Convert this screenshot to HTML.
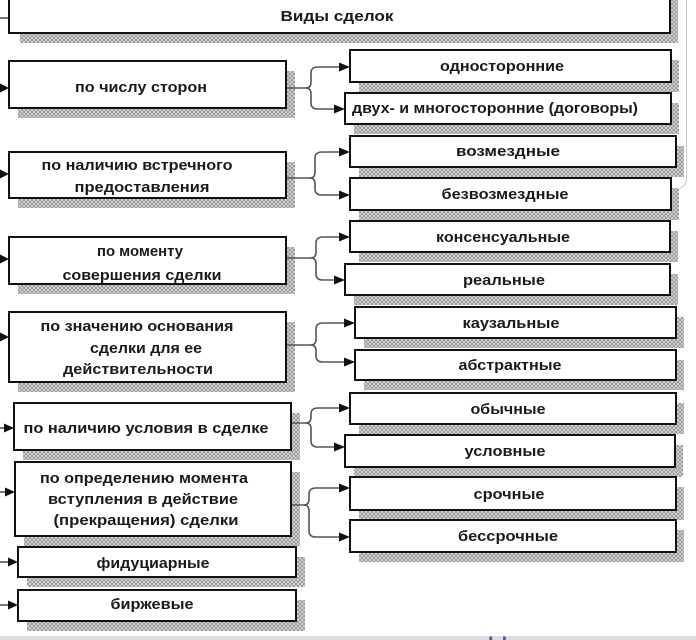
<!DOCTYPE html>
<html><head><meta charset="utf-8"><style>
html,body{margin:0;padding:0;background:#fff;}
svg{display:block;}
text{font-family:"Liberation Sans","Noto Sans CJK SC",sans-serif;font-weight:bold;font-size:15px;fill:#1a1a1a;text-anchor:middle;}
</style></head><body>
<svg width="696" height="640" viewBox="0 0 696 640" xmlns="http://www.w3.org/2000/svg">
<defs>
<pattern id="h" width="4" height="4" patternUnits="userSpaceOnUse">
<rect width="4" height="4" fill="#e6e6e6"/>
<path d="M0 0L2 2L4 0M0 4L2 2L4 4" stroke="#959595" stroke-width="1" fill="none"/>
</pattern>
</defs>
<rect width="696" height="640" fill="#fff"/>

<!-- right gray frame line -->
<path d="M686.5 0 L686.5 178 Q686.5 186 680 188" stroke="#c8c8c8" stroke-width="1" fill="none"/>

<!-- shadows -->
<g fill="url(#h)">
<rect x="20" y="-5" width="658" height="48"/>
<rect x="18" y="71" width="277" height="47"/>
<rect x="18" y="162" width="277" height="46"/>
<rect x="18" y="247" width="277" height="47"/>
<rect x="18" y="322" width="277" height="70"/>
<rect x="23" y="413" width="277" height="47"/>
<rect x="24" y="472" width="276" height="74"/>
<rect x="27" y="557" width="278" height="30"/>
<rect x="27" y="600" width="278" height="31"/>

<rect x="359" y="60" width="320" height="32"/>
<rect x="354" y="103" width="325" height="31"/>
<rect x="359" y="146" width="325" height="31"/>
<rect x="359" y="188" width="320" height="32"/>
<rect x="359" y="231" width="319" height="31"/>
<rect x="354" y="274" width="324" height="31"/>
<rect x="364" y="317" width="320" height="31"/>
<rect x="364" y="360" width="320" height="30"/>
<rect x="359" y="403" width="325" height="31"/>
<rect x="354" y="445" width="329" height="32"/>
<rect x="359" y="487" width="325" height="33"/>
<rect x="359" y="530" width="325" height="32"/>
</g>

<!-- connectors -->
<g stroke="#555" stroke-width="1.6" fill="none">
<path d="M0 18 L8 18"/>
<path d="M0 428 L6 428"/><path d="M0 492 L7 492"/><path d="M0 562 L10 562"/><path d="M0 605 L10 605"/>

<path d="M286 88 L306 88 Q311 88 311 82 L311 73 Q311 67 318 67 L342 67"/>
<path d="M306 88 Q311 88 311 94 L311 103 Q311 109 318 109 L337 109"/>

<path d="M286 178 L310 178 Q315 178 315 172 L315 158 Q315 152 322 152 L342 152"/>
<path d="M310 178 Q315 178 315 184 L315 189 Q315 195 322 195 L342 195"/>

<path d="M286 258 L311 258 Q316 258 316 252 L316 243 Q316 237 323 237 L342 237"/>
<path d="M311 258 Q316 258 316 264 L316 274 Q316 280 323 280 L337 280"/>

<path d="M286 345 L311 345 Q316 345 316 339 L316 329 Q316 323 323 323 L347 323"/>
<path d="M311 345 Q316 345 316 351 L316 356 Q316 362 323 362 L347 362"/>

<path d="M291 423 L306 423 Q311 423 311 417 L311 414 Q311 408 318 408 L342 408"/>
<path d="M306 423 Q311 423 311 429 L311 441 Q311 447 318 447 L337 447"/>

<path d="M291 505 L304 505 Q309 505 309 499 L309 494 Q309 488 316 488 L342 488"/>
<path d="M304 505 Q309 505 309 511 L309 531 Q309 537 316 537 L342 537"/>
</g>

<!-- arrowheads -->
<g fill="#111">
<polygon points="9,88 0,83.5 0,92.5"/>
<polygon points="9,174 0,169.5 0,178.5"/>
<polygon points="9,259 0,254.5 0,263.5"/>
<polygon points="9,337 0,332.5 0,341.5"/>
<polygon points="14,428 4,423.5 4,432.5"/>
<polygon points="15,492 5,487.5 5,496.5"/>
<polygon points="18,562 8,557.5 8,566.5"/>
<polygon points="18,605 8,600.5 8,609.5"/>

<polygon points="350,67 339,62.5 339,71.5"/>
<polygon points="345,109 334,104.5 334,113.5"/>
<polygon points="350,152 339,147.5 339,156.5"/>
<polygon points="350,195 339,190.5 339,199.5"/>
<polygon points="350,237 339,232.5 339,241.5"/>
<polygon points="345,280 334,275.5 334,284.5"/>
<polygon points="355,323 344,318.5 344,327.5"/>
<polygon points="355,362 344,357.5 344,366.5"/>
<polygon points="350,408 339,403.5 339,412.5"/>
<polygon points="345,447 334,442.5 334,451.5"/>
<polygon points="350,488 339,483.5 339,492.5"/>
<polygon points="350,537 339,532.5 339,541.5"/>
</g>

<!-- boxes -->
<g fill="#fff" stroke="#111" stroke-width="2">
<rect x="9" y="-5" width="661" height="38"/>
<rect x="9" y="61" width="277" height="47"/>
<rect x="9" y="152" width="277" height="46"/>
<rect x="9" y="237" width="277" height="47"/>
<rect x="9" y="312" width="277" height="70"/>
<rect x="14" y="403" width="277" height="47"/>
<rect x="15" y="462" width="276" height="74"/>
<rect x="18" y="547" width="278" height="30"/>
<rect x="18" y="590" width="278" height="31"/>

<rect x="350" y="50" width="321" height="32"/>
<rect x="345" y="93" width="326" height="31"/>
<rect x="350" y="136" width="326" height="31"/>
<rect x="350" y="178" width="321" height="32"/>
<rect x="350" y="221" width="320" height="31"/>
<rect x="345" y="264" width="325" height="31"/>
<rect x="355" y="307" width="321" height="31"/>
<rect x="355" y="350" width="321" height="30"/>
<rect x="350" y="393" width="326" height="31"/>
<rect x="345" y="435" width="330" height="32"/>
<rect x="350" y="477" width="326" height="33"/>
<rect x="350" y="520" width="326" height="32"/>
</g>

<!-- text -->
<text x="337" y="21" textLength="113" lengthAdjust="spacingAndGlyphs">Виды сделок</text>

<text x="141" y="92" textLength="132" lengthAdjust="spacingAndGlyphs">по числу сторон</text>
<text x="137" y="170" textLength="191" lengthAdjust="spacingAndGlyphs">по наличию встречного</text>
<text x="142" y="192" textLength="135" lengthAdjust="spacingAndGlyphs">предоставления</text>
<text x="140" y="256" textLength="86" lengthAdjust="spacingAndGlyphs">по моменту</text>
<text x="142" y="280" textLength="159" lengthAdjust="spacingAndGlyphs">совершения сделки</text>
<text x="137" y="331" textLength="193" lengthAdjust="spacingAndGlyphs">по значению основания</text>
<text x="146" y="353" textLength="112" lengthAdjust="spacingAndGlyphs">сделки для ее</text>
<text x="138" y="374" textLength="150" lengthAdjust="spacingAndGlyphs">действительности</text>
<text x="146" y="433" textLength="245" lengthAdjust="spacingAndGlyphs">по наличию условия в сделке</text>
<text x="144" y="483" textLength="208" lengthAdjust="spacingAndGlyphs">по определению момента</text>
<text x="143" y="504" textLength="190" lengthAdjust="spacingAndGlyphs">вступления в действие</text>
<text x="146" y="525" textLength="185" lengthAdjust="spacingAndGlyphs">(прекращения) сделки</text>
<text x="153" y="568" textLength="113" lengthAdjust="spacingAndGlyphs">фидуциарные</text>
<text x="152" y="609" textLength="83" lengthAdjust="spacingAndGlyphs">биржевые</text>

<text x="502" y="71" textLength="124" lengthAdjust="spacingAndGlyphs">односторонние</text>
<text x="495" y="113" textLength="286" lengthAdjust="spacingAndGlyphs">двух- и многосторонние (договоры)</text>
<text x="508" y="156" textLength="104" lengthAdjust="spacingAndGlyphs">возмездные</text>
<text x="505" y="199" textLength="127" lengthAdjust="spacingAndGlyphs">безвозмездные</text>
<text x="503" y="242" textLength="134" lengthAdjust="spacingAndGlyphs">консенсуальные</text>
<text x="504" y="285" textLength="82" lengthAdjust="spacingAndGlyphs">реальные</text>
<text x="511" y="328" textLength="97" lengthAdjust="spacingAndGlyphs">каузальные</text>
<text x="510" y="370" textLength="103" lengthAdjust="spacingAndGlyphs">абстрактные</text>
<text x="508" y="414" textLength="75" lengthAdjust="spacingAndGlyphs">обычные</text>
<text x="505" y="456" textLength="81" lengthAdjust="spacingAndGlyphs">условные</text>
<text x="509" y="499" textLength="71" lengthAdjust="spacingAndGlyphs">срочные</text>
<text x="508" y="541" textLength="100" lengthAdjust="spacingAndGlyphs">бессрочные</text>

<!-- bottom strip -->
<rect x="0" y="636" width="696" height="4" fill="#dcdcdc"/>
<text x="543" y="653" style="font-weight:normal;font-size:24px;fill:#3a5ea8" textLength="112" lengthAdjust="spacingAndGlyphs">Нарезки</text>
</svg>
</body></html>
